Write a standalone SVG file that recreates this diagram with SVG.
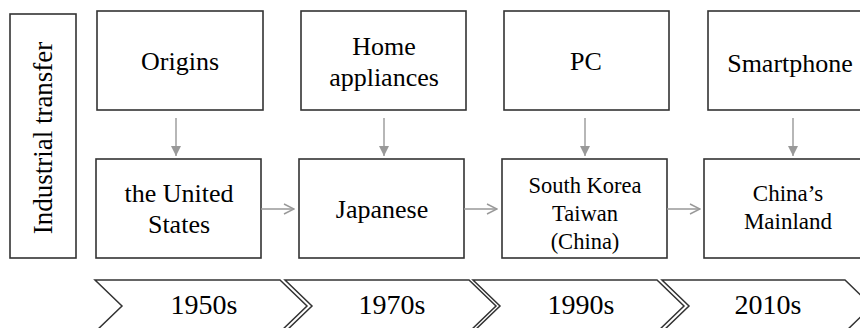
<svg xmlns="http://www.w3.org/2000/svg" width="860" height="328" viewBox="0 0 860 328">
<defs>
<style>
.box{fill:#fff;stroke:#333;stroke-width:1.6}
.t{font-family:"Liberation Serif","Times New Roman",serif;font-size:26px;fill:#000;text-anchor:middle}
.s{font-size:22.5px}
.y{font-size:28px}
.arr{stroke:#999;stroke-width:1.4;fill:none}
.chev{fill:#fff;stroke:#333;stroke-width:1.5}
</style>
<marker id="hv" viewBox="0 0 10 10" refX="10" refY="5" markerWidth="10" markerHeight="10" markerUnits="userSpaceOnUse" orient="auto">
<path d="M0,0 L10,5 L0,10 Z" fill="#999"/>
</marker>
<marker id="hh" viewBox="0 0 12 12" refX="11" refY="6" markerWidth="12" markerHeight="12" markerUnits="userSpaceOnUse" orient="auto">
<path d="M1,1 L11,6 L1,11" fill="none" stroke="#999" stroke-width="1.4"/>
</marker>
</defs>
<rect width="860" height="328" fill="#fff"/>

<g id="label-industrial-transfer">
<rect class="box" x="10" y="14" width="66" height="244"/>
<text class="t" style="font-size:27px" transform="translate(52,138) rotate(-90)">Industrial transfer</text>
</g>

<g id="node-origins">
<rect class="box" x="97" y="11" width="166" height="99"/>
<text class="t" x="180" y="70">Origins</text>
</g>
<g id="node-home-appliances">
<rect class="box" x="301" y="11" width="165" height="99"/>
<text class="t" x="384" y="55">Home</text>
<text class="t" x="384" y="86">appliances</text>
</g>
<g id="node-pc">
<rect class="box" x="504" y="11" width="165" height="99"/>
<text class="t" x="586" y="70">PC</text>
</g>
<g id="node-smartphone">
<rect class="box" x="708" y="11" width="166" height="99"/>
<text class="t" x="790" y="72">Smartphone</text>
</g>

<g id="node-us">
<rect class="box" x="96" y="159" width="165" height="99"/>
<text class="t" x="179" y="202">the United</text>
<text class="t" x="179" y="233">States</text>
</g>
<g id="node-japanese">
<rect class="box" x="299" y="159" width="165" height="99"/>
<text class="t" x="382" y="218">Japanese</text>
</g>
<g id="node-south-korea">
<rect class="box" x="502" y="159" width="165" height="99"/>
<text class="t s" x="585" y="193">South Korea</text>
<text class="t s" x="585" y="221">Taiwan</text>
<text class="t s" x="585" y="249">(China)</text>
</g>
<g id="node-china">
<rect class="box" x="704" y="159" width="166" height="99"/>
<text class="t" style="font-size:23px" x="788" y="201">China’s</text>
<text class="t" style="font-size:23px" x="788" y="229">Mainland</text>
</g>

<g id="connectors">
<line class="arr" x1="176" y1="118" x2="176" y2="156" marker-end="url(#hv)"/>
<line class="arr" x1="384" y1="118" x2="384" y2="156" marker-end="url(#hv)"/>
<line class="arr" x1="585" y1="118" x2="585" y2="156" marker-end="url(#hv)"/>
<line class="arr" x1="793" y1="118" x2="793" y2="156" marker-end="url(#hv)"/>
<line class="arr" x1="261" y1="209" x2="294" y2="209" marker-end="url(#hh)"/>
<line class="arr" x1="464" y1="209" x2="497" y2="209" marker-end="url(#hh)"/>
<line class="arr" x1="667" y1="209" x2="700" y2="209" marker-end="url(#hh)"/>
</g>

<g id="timeline">
<path class="chev" d="M95,280 H280 L307,306 L280,332 H95 L122,306 Z"/>
<path class="chev" d="M285,280 H469 L496,306 L469,332 H285 L312,306 Z"/>
<path class="chev" d="M473,280 H657 L684,306 L657,332 H473 L500,306 Z"/>
<path class="chev" d="M662,280 H845 L872,306 L845,332 H662 L689,306 Z"/>
<text class="t y" x="204" y="314">1950s</text>
<text class="t y" x="392" y="314">1970s</text>
<text class="t y" x="581" y="314">1990s</text>
<text class="t y" x="768" y="314">2010s</text>
</g>
</svg>
